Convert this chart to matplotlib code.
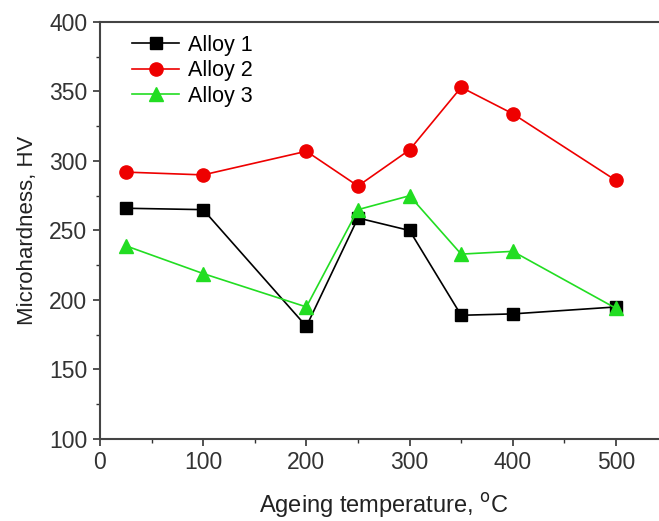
import numpy as np
import matplotlib
matplotlib.use("Agg")
import matplotlib.pyplot as plt
from matplotlib.ticker import MultipleLocator

# ageing temperature [C]
temps = [25, 100, 200, 250, 300, 350, 400, 500]

# microhardness [HV]
alloy1 = [266, 265, 181, 259, 250, 189, 190, 195]
alloy2 = [292, 290, 307, 282, 308, 353, 334, 286]
alloy3 = [239, 219, 195, 265, 275, 233, 235, 194]

plt.rcParams['font.family'] = ['Liberation Sans', 'DejaVu Sans']

fig = plt.figure(figsize=(6.59, 5.21), dpi=100)
# right spine lies outside the picture, as in the cropped original
ax = fig.add_axes([0.1517, 0.1574, 0.8613, 0.8004])

ax.plot(temps, alloy1, '-s', color='black', markersize=8.5, linewidth=1.2, label='Alloy 1')
ax.plot(temps, alloy2, '-o', color='#ee0000', markersize=9.5, linewidth=1.2, label='Alloy 2')
ax.plot(temps, alloy3, '-^', color='#22dd22', markersize=9.5, linewidth=1.2, label='Alloy 3')

ax.set_xlim(0, 550)
ax.set_ylim(100, 400)
ax.xaxis.set_major_locator(MultipleLocator(100))
ax.xaxis.set_minor_locator(MultipleLocator(50))
ax.yaxis.set_major_locator(MultipleLocator(50))
ax.yaxis.set_minor_locator(MultipleLocator(25))
ax.tick_params(which='major', direction='out', length=5, width=1.2, labelsize=16.5,
               colors='#333333', pad=4)
ax.tick_params(which='minor', direction='out', length=3, width=1.0, colors='#333333')
for s in ax.spines.values():
    s.set_linewidth(1.5)
    s.set_color('#444444')

ax.set_xlabel(r'Ageing temperature, $^{\rm o}$C', fontsize=17, labelpad=12, color='#222222')
ax.set_ylabel('Microhardness, HV', fontsize=16, labelpad=8, color='#222222')

ax.legend(loc='upper left', frameon=False, fontsize=15.5, handlelength=2.2,
          borderaxespad=0.3, handletextpad=0.4, labelspacing=0.2,
          bbox_to_anchor=(0.03, 1.005))

fig.savefig('out.png', dpi=100)
